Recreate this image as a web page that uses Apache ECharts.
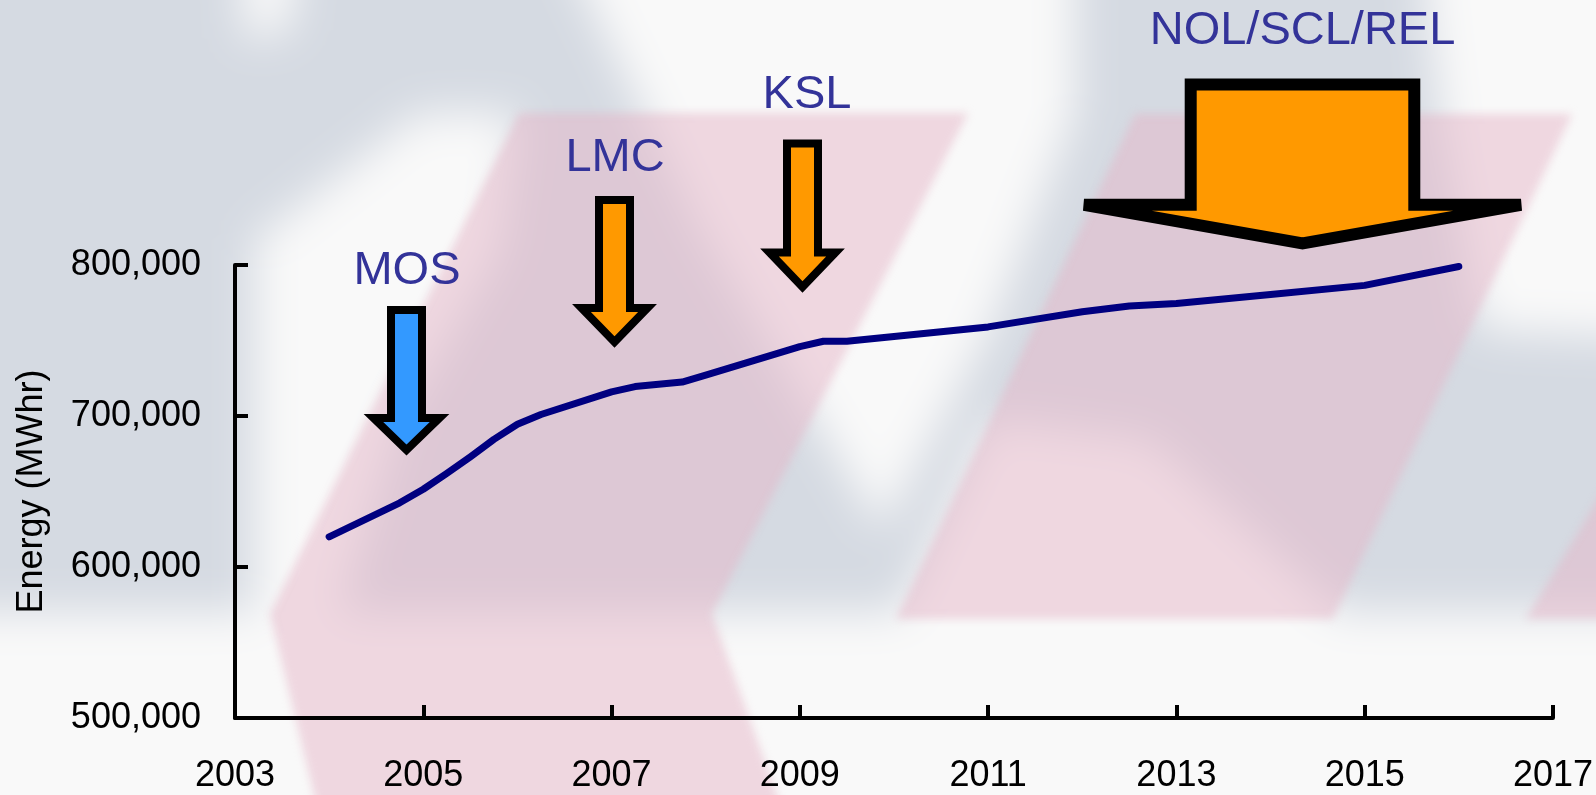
<!DOCTYPE html>
<html><head><meta charset="utf-8">
<script src="https://cdn.jsdelivr.net/npm/echarts@6/dist/echarts.min.js"></script>
<style>
html,body{margin:0;padding:0;background:#f9f9f9;overflow:hidden}
#wrap{position:relative;width:1596px;height:795px;overflow:hidden}
#bg{position:absolute;left:-60px;top:-60px;width:1716px;height:915px;filter:blur(22px)}
#pk{position:absolute;left:-60px;top:-60px;width:1716px;height:915px;filter:blur(4px)}
#c{position:absolute;left:0;top:0;width:1596px;height:795px}
</style>
</head><body><div id="wrap"><div id="bg"></div><div id="pk"></div><div id="c"></div></div>
<script>
// ---- data ----
const years  = [2004, 2004.75, 2005, 2005.25, 2005.5, 2005.75, 2006, 2006.25, 2007, 2007.25, 2007.75, 2008, 2009, 2009.25, 2009.5, 2011, 2012, 2012.5, 2013, 2014, 2015, 2016];
const energy = [620000, 642500, 651500, 662000, 673000, 684500, 694500, 701000, 716000, 719500, 722500, 727000, 746000, 749500, 749500, 759000, 769000, 772800, 774500, 780500, 786500, 799000];
const xTicks = [2003, 2005, 2007, 2009, 2011, 2013, 2015, 2017];
const yTicks = [500000, 600000, 700000, 800000];
const annotationLabels = ['MOS', 'LMC', 'KSL', 'NOL/SCL/REL'];
const yAxisName = 'Energy (MWhr)';

// ---- styling / layout ----
const FONT = '"Liberation Sans", Arial, sans-serif';
const GRAY = '#d5dae2', WHITE = '#f9f9f9', PINK = 'rgba(229,181,199,0.5)';
const OFF = 60; // offset of the blurred decoration layers

function shift(points) { return points.map(p => [p[0] + OFF, p[1] + OFF]); }
function poly(points, fill) { return { type: 'polygon', silent: true, shape: { points: shift(points) }, style: { fill } }; }

// decorative slide background (blurred layer)
const bgShapes = [
  { type: 'rect', silent: true, shape: { x: 0, y: 0, width: 1716, height: 915 }, style: { fill: WHITE } },
  { type: 'rect', silent: true, shape: { x: 0, y: 0, width: 1716, height: 612 + OFF }, style: { fill: GRAY } },
  poly([[255, 240], [420, 113], [519, 113], [500, 250], [400, 420], [340, 612], [255, 612]], WHITE),
  poly([[240, -60], [300, -60], [290, 30], [245, 40]], WHITE),
  poly([[560, -60], [1075, -60], [1075, 112], [990, 330], [882, 530], [700, 230]], WHITE),
  poly([[990, 420], [1150, 440], [1340, 612], [900, 612]], WHITE),
  poly([[1420, -60], [1700, -60], [1700, 340], [1480, 330], [1440, 113]], WHITE)
];
// pink chevron and parallelograms (lightly blurred layer)
const pinkShapes = [
  poly([[519, 113], [968, 113], [712, 614], [800, 860], [330, 860], [270, 614]], PINK),
  poly([[1135, 114], [1572, 114], [1333, 619], [896, 619]], PINK),
  poly([[1700, 330], [1700, 619], [1526, 619]], PINK)
];

function arrowPts(cx, top, sh, headY, hh, tipY) {
  return [[cx - sh, top], [cx + sh, top], [cx + sh, headY], [cx + hh, headY], [cx, tipY], [cx - hh, headY], [cx - sh, headY]];
}
const arrowStyle = (fill, lw) => ({ fill, stroke: '#000', lineWidth: lw, lineJoin: 'miter', miterLimit: 10 });
const arrows = [
  { type: 'polygon', z: 20, silent: true, shape: { points: arrowPts(406.5, 310, 15.5, 418, 33, 450) }, style: arrowStyle('#3399ff', 8) },
  { type: 'polygon', z: 20, silent: true, shape: { points: arrowPts(614.5, 200, 15.5, 308, 33, 342) }, style: arrowStyle('#ff9900', 8) },
  { type: 'polygon', z: 20, silent: true, shape: { points: arrowPts(802.5, 143.5, 15.5, 252.5, 33, 287) }, style: arrowStyle('#ff9900', 8) },
  { type: 'polygon', z: 20, silent: true, shape: { points: arrowPts(1302.5, 84.6, 111.8, 204.8, 218.5, 243.4) }, style: arrowStyle('#ff9900', 12) }
];
const labelPos = [[407, 271.5], [615, 158.5], [807, 95], [1302.5, 31.5]];
const labels = annotationLabels.map((t, i) => ({
  type: 'text', z: 21, silent: true, x: labelPos[i][0], y: labelPos[i][1],
  style: { text: t, fill: '#333399', font: '47px ' + FONT, textAlign: 'center', textVerticalAlign: 'middle', align: 'center', verticalAlign: 'middle' }
}));

const bgChart = echarts.init(document.getElementById('bg'), null, { renderer: 'canvas' });
bgChart.setOption({ animation: false, backgroundColor: 'transparent', graphic: bgShapes });
const pkChart = echarts.init(document.getElementById('pk'), null, { renderer: 'canvas' });
pkChart.setOption({ animation: false, backgroundColor: 'transparent', graphic: pinkShapes });

const chart = echarts.init(document.getElementById('c'), null, { renderer: 'canvas' });
chart.setOption({
  animation: false,
  backgroundColor: 'transparent',
  textStyle: { fontFamily: FONT },
  grid: { left: 235, right: 41, top: 265, bottom: 77, containLabel: false },
  xAxis: {
    type: 'value', min: xTicks[0], max: xTicks[xTicks.length - 1], interval: 2,
    axisLine: { lineStyle: { color: '#000', width: 4 } },
    axisTick: { inside: true, length: 13, lineStyle: { color: '#000', width: 4 } },
    axisLabel: { color: '#000', fontSize: 36, fontFamily: FONT, margin: 40, formatter: v => String(v) },
    splitLine: { show: false }
  },
  yAxis: {
    type: 'value', min: yTicks[0], max: yTicks[yTicks.length - 1], interval: 100000,
    name: yAxisName, nameLocation: 'middle', nameGap: 185, nameRotate: 90,
    nameTextStyle: { color: '#000', fontSize: 36, fontFamily: FONT },
    axisLine: { show: true, lineStyle: { color: '#000', width: 4 } },
    axisTick: { show: true, inside: true, length: 13, lineStyle: { color: '#000', width: 4 } },
    axisLabel: { color: '#000', fontSize: 36, fontFamily: FONT, margin: 34, formatter: v => v.toLocaleString('en-US') },
    splitLine: { show: false }
  },
  series: [{
    type: 'line', data: years.map((y, i) => [y, energy[i]]), showSymbol: false, smooth: false,
    lineStyle: { color: '#000080', width: 7, join: 'round', cap: 'round' }, z: 5
  }],
  graphic: arrows.concat(labels)
});
</script></body></html>
